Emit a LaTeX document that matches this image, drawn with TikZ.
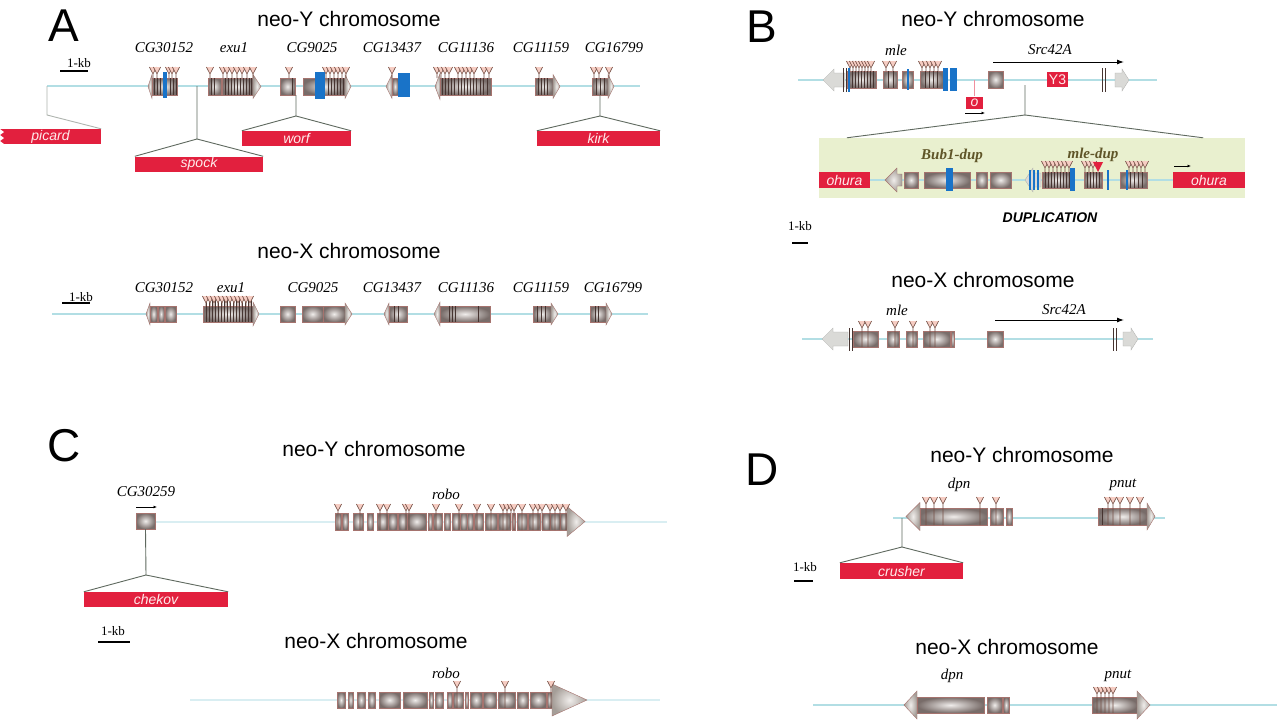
\documentclass[tikz,border=0pt]{standalone}
\usepackage{fontspec}
\setmainfont{Liberation Serif}
\setsansfont{Liberation Sans}
\usepackage{tikz}
\usetikzlibrary{arrows.meta,positioning,calc}
\definecolor{chromblue}{RGB}{178,222,228}
\definecolor{chromdark}{RGB}{125,192,200}
\definecolor{exonhi}{RGB}{240,237,235}
\definecolor{exonlo}{RGB}{120,108,105}
\definecolor{exonedge}{RGB}{165,115,110}
\definecolor{tipgray}{RGB}{165,158,152}
\definecolor{fadegray}{RGB}{218,218,215}
\definecolor{tickdark}{RGB}{70,52,48}
\definecolor{ypink}{RGB}{246,205,195}
\definecolor{ybrown}{RGB}{115,78,68}
\definecolor{mutblue}{RGB}{25,115,200}
\definecolor{tered}{RGB}{226,32,62}
\definecolor{dupgreen}{RGB}{233,240,207}
\definecolor{duptext}{RGB}{95,85,40}
\definecolor{conngray}{RGB}{95,105,95}
\tikzset{
  chrom/.style={draw=chromblue,line width=1.5pt},
  chromthick/.style={draw=chromdark,double=chromblue!50!white,double distance=1.6pt,line width=0.6pt},
  exon/.style={draw=exonedge,line width=0.4pt,inner color=exonhi,outer color=exonlo},
  genetip/.style={draw=exonedge,line width=0.4pt,inner color=exonhi,outer color=tipgray},
  fadetip/.style={draw=fadegray!80!black,line width=0.3pt,fill=fadegray},
  tick/.style={draw=tickdark,line width=0.9pt},
  ystem/.style={draw=ybrown,line width=0.6pt},
  bluetick/.style={draw=mutblue,line width=1.5pt},
  tebox/.style={fill=tered,text=white!92!red,inner sep=0pt,minimum height=15pt,
    font=\sffamily\itshape\fontsize{14}{14}\selectfont},
  conn/.style={draw=conngray,line width=0.9pt},
  title/.style={font=\sffamily\fontsize{21}{21}\selectfont},
  panel/.style={font=\sffamily\fontsize{46}{46}\selectfont},
  genelab/.style={font=\itshape\fontsize{15}{15}\selectfont},
  duplab/.style={font=\bfseries\itshape\fontsize{15}{15}\selectfont,text=duptext},
  kblab/.style={font=\fontsize{13}{13}\selectfont,inner sep=1pt},
  kbbar/.style={draw=black,line width=1.3pt},
  srcarrow/.style={-{Latex[length=7pt,width=5pt]},line width=1pt,draw=black},
  smallarrow/.style={-{Latex[length=3.5pt,width=3pt]},line width=0.7pt,draw=black}
}
% exon boxes, dark ticks, Y marks, gene heads
\newcommand{\exons}[3]{\foreach \xa/\xb in {#3}{\draw[exon] (\xa,#1) rectangle (\xb,#2);}}
\newcommand{\ticks}[3]{\foreach \tk in {#3}{\draw[tick] (\tk,#1) -- (\tk,#2);}}
\newcommand{\ymarks}[3]{\foreach \ym in {#3}{%
  \fill[ypink] ({\ym-3.6},{#1-1}) -- ({\ym+3.6},{#1-1}) -- (\ym,{#1+6}) -- cycle;
  \draw[ystem] ({\ym-3.6},{#1-1}) -- (\ym,{#1+6}) -- ({\ym+3.6},{#1-1}) (\ym,{#1+6}) -- (\ym,#2);}}
\newcommand{\genehead}[7][genetip]{\draw[#1] (#4,{#5-#6}) -- (#3,{#5-#6}) -- (#3,{#5-#7})
  -- (#2,#5) -- (#3,{#5+#7}) -- (#3,{#5+#6}) -- (#4,{#5+#6}) -- cycle;}
\newcommand{\bluebar}[4]{\fill[mutblue] (#1,#3) rectangle (#2,#4);}

\begin{document}
\begin{tikzpicture}[x=1pt,y=-1pt]
  \useasboundingbox (0,0) rectangle (1280,720);
  \fill[white] (0,0) rectangle (1280,720);

  % ---------------- panel A ----------------
  \node[panel] (lettA) at (64,26) {A};
  \node[title] (aYtitle) at (349,19) {neo-Y chromosome};
  \node[genelab] (aY1) at (164,48) {CG30152};
  \node[genelab] (aY2) at (234,48) {exu1};
  \node[genelab] (aY3) at (312,48) {CG9025};
  \node[genelab] (aY4) at (392,48) {CG13437};
  \node[genelab] (aY5) at (466,48) {CG11136};
  \node[genelab] (aY6) at (541,48) {CG11159};
  \node[genelab] (aY7) at (614,48) {CG16799};
  \node[kblab] (aYkb) at (79,63) {1-kb};
  \draw[kbbar] (60,71) -- (88,71);
  \draw[chrom] (47,86) -- (640,86);
  % CG30152
  \genehead{148}{152}{152}{86.5}{8.5}{12}
  \exons{78}{95}{152/177}
  \ticks{78}{95}{154,157,160,170,173,176}
  \ymarks{68}{78}{153,157,169,172,176}
  \bluebar{163}{167}{72}{98}
  % exu1
  \exons{78}{95}{208/221,222/253}
  \genehead{261}{253}{253}{86.5}{8.5}{12}
  \ticks{78}{95}{211,214,225,228,231,234,237,240,243,246,249,251}
  \ymarks{68}{78}{210,223,227,232,237,242,247,253}
  % CG9025
  \exons{78}{95}{280/295,303/345}
  \genehead{351}{345}{345}{86.5}{8.5}{12}
  \ticks{78}{95}{292,328,331,334,337,340,343}
  \ymarks{68}{78}{289,326,330,334,338,342,346}
  \bluebar{315}{325}{72}{99}
  % CG13437
  \genehead{386}{392}{392}{86.5}{8.5}{12}
  \exons{78}{95}{392/398}
  \bluebar{398}{410}{73}{97}
  \ymarks{68}{78}{392}
  % CG11136
  \genehead{435}{440}{440}{86.5}{8.5}{13}
  \exons{78}{95}{440/491}
  \ticks{78}{95}{442,445,448,451,454,458,461,464,467,470,473,476,480,483,487}
  \ymarks{68}{78}{437,441,445,449,458,462,466,470,474,484,489}
  % CG11159
  \exons{78}{95}{535/553}
  \genehead{560}{553}{553}{86.5}{8.5}{12}
  \ticks{78}{95}{538,541,544,547}
  \ymarks{68}{78}{539}
  % CG16799
  \exons{78}{95}{592/608}
  \genehead{614}{608}{608}{86.5}{8.5}{12}
  \ticks{78}{95}{596,600,604}
  \ymarks{68}{78}{594,599,609}
  % insertions
  \node[tebox,minimum width=101pt] (picard) at (50.5,136.5) {picard};
  \fill[white] (0,129) -- (4,132) -- (0,135) -- (4,138) -- (0,141) -- (4,144) -- (0,144) -- cycle;
  \node[tebox,minimum width=128pt] (spock) at (199,164) {spock};
  \node[tebox,minimum width=109pt] (worf) at (296.5,138.5) {worf};
  \node[tebox,minimum width=123pt] (kirk) at (598.5,138.5) {kirk};
  \coordinate (picpt) at (47,86);
  \coordinate (spockpt) at (197,86);
  \coordinate (worfpt) at (296,95);
  \coordinate (kirkpt) at (600,95);
  \draw[conn,draw=conngray!50] (picpt) -- ++(0,29) -- (picard.north east);
  \draw[conn] (spockpt) -- ++(0,53) coordinate (spockk) -- (spock.north west);
  \draw[conn] (spockk) -- (spock.north east);
  \draw[conn] (worfpt) -- ++(0,21) coordinate (worfk) -- (worf.north west);
  \draw[conn] (worfk) -- (worf.north east);
  \draw[conn] (kirkpt) -- ++(0,21) coordinate (kirkk) -- (kirk.north west);
  \draw[conn] (kirkk) -- (kirk.north east);

  % neo-X of A
  \node[title] (aXtitle) at (349,251) {neo-X chromosome};
  \node[genelab] (aX1) at (164,288) {CG30152};
  \node[genelab] (aX2) at (231,288) {exu1};
  \node[genelab] (aX3) at (313,288) {CG9025};
  \node[genelab] (aX4) at (392,288) {CG13437};
  \node[genelab] (aX5) at (466,288) {CG11136};
  \node[genelab] (aX6) at (541,288) {CG11159};
  \node[genelab] (aX7) at (613,288) {CG16799};
  \node[kblab] (aXkb) at (81,297) {1-kb};
  \draw[kbbar] (62,303) -- (90,303);
  \draw[chrom] (52,314) -- (648,314);
  \genehead{146}{150}{150}{314}{8}{11}
  \exons{306}{322}{150/157,158/164,165/176}
  \exons{306}{322}{203/253}
  \ticks{300}{322}{206,209,212,215,218,221,224,227,230,233,236,239,242,245,248,251}
  \ymarks{297}{306}{206,210,214,218,222,226,230,234,238,242,246,250}
  \genehead{259}{253}{253}{314}{8}{12}
  \exons{306}{322}{280/295,302/323,323/345}
  \genehead{352}{345}{345}{314}{8}{11}
  \genehead{384}{389}{389}{314}{8}{11}
  \exons{306}{322}{389/407}
  \ticks{306}{322}{394,398}
  \genehead{434}{440}{440}{314}{8}{12}
  \exons{306}{322}{440/490}
  \ticks{306}{322}{449,452,455,478}
  \exons{306}{322}{533/551}
  \ticks{306}{322}{537,541,545}
  \genehead{558}{551}{551}{314}{8}{11}
  \exons{306}{322}{590/606}
  \ticks{306}{322}{595,598}
  \genehead{612}{606}{606}{314}{8}{11}

  % ---------------- panel B ----------------
  \node[panel] (lettB) at (762,27) {B};
  \node[title] (bYtitle) at (993,19) {neo-Y chromosome};
  \node[genelab] (bYmle) at (896,50) {mle};
  \node[genelab] (bYsrc) at (1050,50) {Src42A};
  \draw[srcarrow] (993,62) -- (1124,62);
  \draw[chrom] (798,80) -- (1157,80);
  \genehead[fadetip]{823}{834}{845}{80}{7}{11}
  \ticks{68}{92}{843,846}
  \exons{71}{88}{847/876,883/897,902/913,920/943}
  \ticks{71}{88}{852,855,858,861,864,867,870,873,888,893,925,929,933,937}
  \ymarks{62}{71}{850,853,856,859,862,865,868,871,886,893,922,926,930,934,938}
  \draw[bluetick] (849,68) -- (849,92);
  \draw[bluetick] (908,69) -- (908,90);
  \bluebar{943}{948}{68}{91}
  \bluebar{950}{957}{68}{91}
  \exons{71}{88}{988/1003}
  \node[tebox,minimum width=17pt,minimum height=12pt] (obox) at (974.5,102.5) {o};
  \coordinate (opt) at (974.5,80);
  \draw[conn,draw=tered!50,line width=0.6pt] (opt) -- (obox.north);
  \draw[smallarrow] (965,113) -- (985,113);
  \node[tebox,minimum width=21pt,font=\sffamily\fontsize{14}{14}\selectfont] (y3) at (1057.5,79.5) {Y3};
  \ticks{68}{92}{1102,1105}
  \genehead[fadetip]{1129}{1122}{1115}{80}{7}{11}
  % duplication
  \node[fill=dupgreen,minimum width=426pt,minimum height=60pt,inner sep=0pt] (dup) at (1032,168) {};
  \coordinate (duppt) at (1025,85);
  \draw[conn] (duppt) -- ++(0,30) coordinate (dupk) -- ($(dup.north west)+(28,0)$);
  \draw[conn] (dupk) -- ($(dup.north east)+(-42,0)$);
  \draw[chrom] (870,180) -- (1173,180);
  \node[tebox,minimum width=51pt,minimum height=16pt] (ohuraL) at (844.5,180) {ohura};
  \node[tebox,minimum width=72pt,minimum height=16pt] (ohuraR) at (1209,180) {ohura};
  \draw[smallarrow] (1174,166) -- (1191,166);
  \node[duplab] (bub) at (952,156) {Bub1-dup};
  \node[duplab] (mledup) at (1093,155) {mle-dup};
  \genehead{885}{897}{902}{180}{6}{12}
  \exons{172}{188}{904/918,924/970,976/987,990/1011}
  \bluebar{946}{953}{168}{191}
  \genehead[fadetip]{1025}{1033}{1041}{180}{7}{12}
  \foreach \bx in {1030,1034,1038} {\draw[bluetick] (\bx,170) -- (\bx,190);}
  \exons{172}{188}{1042/1073,1084/1102,1120/1147}
  \ticks{172}{188}{1045,1048,1051,1054,1057,1060,1063,1066,1069,1087,1090,1093,1096,1099,1130,1134,1138,1142}
  \ymarks{162}{172}{1045,1049,1053,1057,1061,1065,1069,1085,1089,1093,1129,1133,1137,1141,1145}
  \bluebar{1070}{1075}{168}{191}
  \draw[bluetick] (1108,170) -- (1108,190);
  \draw[bluetick] (1127,170) -- (1127,190);
  \fill[tered] (1093,162) -- (1103,162) -- (1098,172) -- cycle;
  \node[font=\sffamily\bfseries\itshape\fontsize{14}{14}\selectfont] (duptxt) at (1050,218) {DUPLICATION};
  \node[kblab] (bkb) at (800,226) {1-kb};
  \draw[kbbar] (792,243) -- (808,243);
  % neo-X of B
  \node[title] (bXtitle) at (983,280) {neo-X chromosome};
  \node[genelab] (bXmle) at (897,310) {mle};
  \node[genelab] (bXsrc) at (1064,310) {Src42A};
  \draw[srcarrow] (995,320) -- (1124,320);
  \draw[chrom] (802,339) -- (1153,339);
  \genehead[fadetip]{822}{833}{848}{339}{7}{11}
  \ticks{328}{351}{849,852}
  \exons{331}{347}{853/878,887/899,906/917,923/950,951/954,987/1003}
  \ymarks{322}{347}{862,868,895,913,930,935}
  \ticks{328}{351}{1113,1116}
  \genehead[fadetip]{1138}{1131}{1123}{339}{7}{11}

  % ---------------- panel C ----------------
  \node[panel] (lettC) at (64,446) {C};
  \node[title] (cYtitle) at (374,449) {neo-Y chromosome};
  \node[genelab] (cYcg) at (146,492) {CG30259};
  \draw[smallarrow] (136,507) -- (157,507);
  \draw[chromthick] (155,522) -- (667,522);
  \node[exon,minimum width=19pt,minimum height=16pt,inner sep=0pt] (cgbox) at (145.5,521) {};
  \node[genelab] (cYrobo) at (446,494) {robo};
  \exons{513}{530}{335/341,342/348,353/363,367/373,377/388,388/397,398/407,407/426,428/432,433/442,444/450,452/460,460/467,467/473,474/483,485/497,498/510,512/515,517/527,528/540,542/550,550/560,560/567}
  \genehead{585}{567}{567}{521.5}{8.5}{15}
  \ymarks{505}{530}{338,360,380,387,406,409,436,459,477,491,503,507,511,514,522,533,538,542,550,555,560,566}
  \node[tebox,minimum width=144pt] (chekov) at (156,599.5) {chekov};
  \draw[conn] (cgbox.south) -- (146,575) coordinate (chekk) -- (chekov.north west);
  \draw[conn] (chekk) -- (chekov.north east);
  \node[kblab] (ckb) at (113,631) {1-kb};
  \draw[kbbar] (98,642) -- (130,642);
  \node[title] (cXtitle) at (376,641) {neo-X chromosome};
  \node[genelab] (cXrobo) at (446,673) {robo};
  \draw[chromthick] (190,700) -- (660,700);
  \exons{692}{708}{337/345,348/353,357/365,368/375,379/400,403/427,429/433,435/443,447/452,453/463,465/468,470/482,483/496,498/515,517/528,530/546,547/552}
  \genehead{587}{552}{552}{700}{8}{16}
  \ymarks{682}{708}{457,505,551}

  % ---------------- panel D ----------------
  \node[panel] (lettD) at (762,470) {D};
  \node[title] (dYtitle) at (1022,455) {neo-Y chromosome};
  \node[genelab] (dYdpn) at (959,485) {dpn};
  \node[genelab] (dYpnut) at (1123,485) {pnut};
  \draw[chrom] (893,518) -- (1165,518);
  \genehead{906}{920}{920}{516.5}{8.5}{14}
  \exons{508}{525}{920/987,990/1003,1006/1012}
  \ymarks{498}{525}{926,934,943,980,996}
  \exons{508}{525}{1098/1147}
  \genehead{1155}{1147}{1147}{516.5}{8.5}{13.5}
  \ticks{508}{525}{1102}
  \ymarks{498}{525}{1108,1113,1120,1130,1140}
  \node[tebox,minimum width=123pt,minimum height=16pt] (crusher) at (901.5,571) {crusher};
  \coordinate (crushpt) at (902,518);
  \draw[conn] (crushpt) -- ++(0,29) coordinate (crushk) -- (crusher.north west);
  \draw[conn] (crushk) -- (crusher.north east);
  \node[kblab] (dkb) at (805,567) {1-kb};
  \draw[kbbar] (794,581) -- (813,581);
  \node[title] (dXtitle) at (1007,647) {neo-X chromosome};
  \node[genelab] (dXdpn) at (952,676) {dpn};
  \node[genelab] (dXpnut) at (1118,676) {pnut};
  \draw[chrom] (813,705) -- (1277,705);
  \genehead{904}{917}{917}{705}{8}{14}
  \exons{697}{713}{917/984,987/1002,1003/1009}
  \exons{697}{713}{1092/1137}
  \genehead{1150}{1137}{1137}{705}{8}{14}
  \ymarks{688}{713}{1097,1101,1105,1109,1113}
\end{tikzpicture}
\end{document}
